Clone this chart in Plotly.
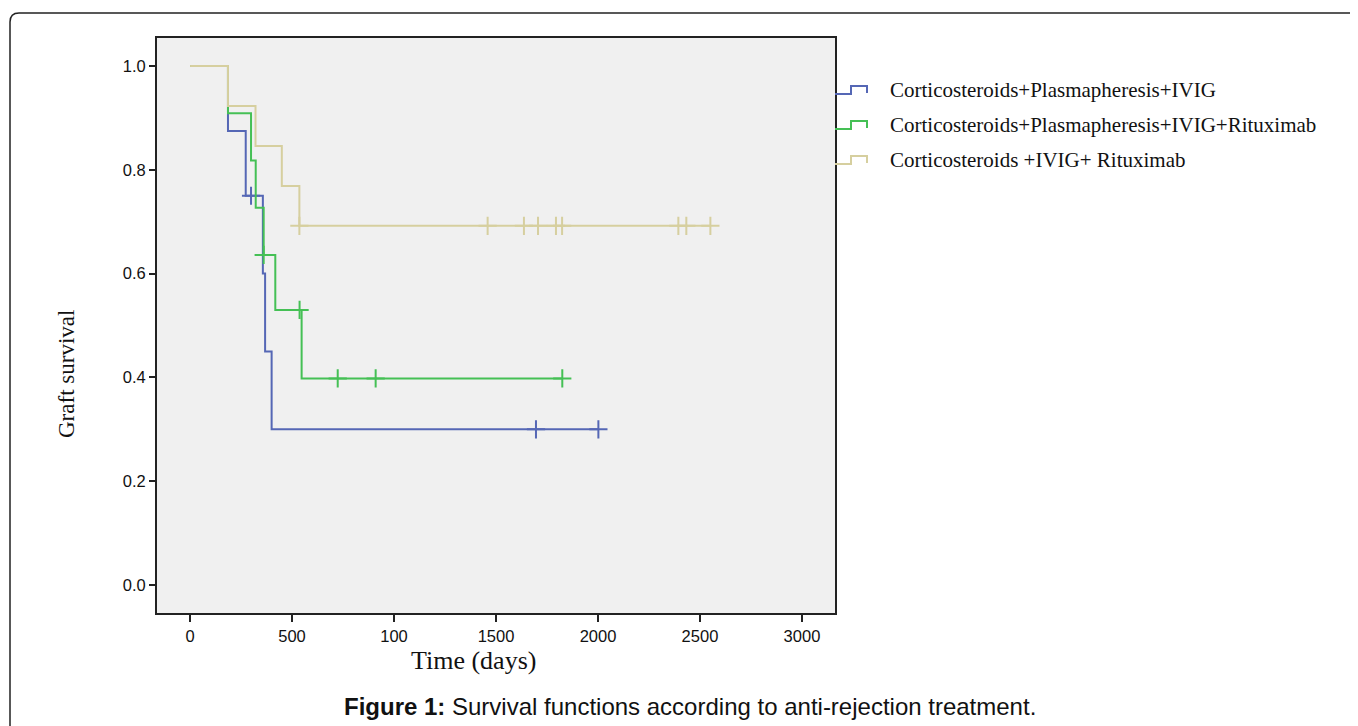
import numpy as np
import plotly.graph_objects as go

# page body has an 8px margin; figure drawn inside it
OFF = 8
W, H = 1358 - OFF, 726 - OFF

# ---- data ----
groups = ["Corticosteroids+Plasmapheresis+IVIG",
          "Corticosteroids+Plasmapheresis+IVIG+Rituximab",
          "Corticosteroids +IVIG+ Rituximab"]

blue_time = [0, 186, 273, 357, 368, 400]
blue_surv = [1.0, 0.875, 0.75, 0.6, 0.45, 0.3]
blue_cens = [299, 1696, 2002]

green_time = [0, 186, 299, 322, 361, 418, 547]
green_surv = [1.0, 0.909, 0.818, 0.727, 0.636, 0.530, 0.398]
green_cens = [361, 537, 724, 910, 1825]

tan_time = [0, 186, 321, 450, 536]
tan_surv = [1.0, 0.923, 0.846, 0.769, 0.692]
tan_cens = [536, 1459, 1637, 1706, 1794, 1824, 2394, 2433, 2551]

x_tickvals = [0, 500, 1000, 1500, 2000, 2500, 3000]
x_ticktext = ["0", "500", "100", "1500", "2000", "2500", "3000"]
y_tickvals = [0.0, 0.2, 0.4, 0.6, 0.8, 1.0]

colors = ["#5567b5", "#45c055", "#d6cf9f"]

# ---- layout geometry (page pixels) ----
PL, PR, PT, PB = 157, 835, 38, 613


def px(x):
    return (x - OFF) / W


def py(y):
    return 1 - (y - OFF) / H


fig = go.Figure()

series = [(blue_time, blue_surv, blue_cens),
          (green_time, green_surv, green_cens),
          (tan_time, tan_surv, tan_cens)]

for (t, s, c), col, name in zip(series, colors, groups):
    t_end = max(max(c), max(t))
    xs = list(t) + [t_end]
    ys = list(s) + [s[-1]]
    fig.add_trace(go.Scatter(x=xs, y=ys, mode="lines", line=dict(color=col, width=2, shape="hv"),
                             name=name, showlegend=False, hoverinfo="skip"))
    idx = np.searchsorted(np.array(t), np.array(c), side="right") - 1
    cy = [s[i] for i in idx]
    fig.add_trace(go.Scatter(x=c, y=cy, mode="markers",
                             marker=dict(symbol="cross-thin", size=13, line=dict(color=col, width=2)),
                             showlegend=False, hoverinfo="skip"))

tickfont = dict(family="Liberation Sans, Arial", size=16.5, color="#111")
fig.update_layout(
    width=W, height=H,
    margin=dict(l=0, r=0, t=0, b=0),
    paper_bgcolor="white",
    plot_bgcolor="#f0f0f0",
    showlegend=False,
    xaxis=dict(domain=[px(PL), px(PR)], range=[-162, 3162], tickvals=x_tickvals, ticktext=x_ticktext,
               showgrid=False, zeroline=False, showline=True, linecolor="#222", linewidth=2, mirror=True,
               ticks="outside", ticklen=7, tickcolor="#222", tickwidth=1.5, tickfont=tickfont),
    yaxis=dict(domain=[py(PB), py(PT)], range=[-0.054, 1.054], tickvals=y_tickvals, tickformat=".1f",
               showgrid=False, zeroline=False, showline=True, linecolor="#222", linewidth=2, mirror=True,
               ticks="outside", ticklen=6, tickcolor="#222", tickwidth=1.5, tickfont=tickfont),
)

annotations = [
    dict(text="Graft survival", x=px(66), y=py(374), xref="paper", yref="paper", textangle=-90,
         showarrow=False, font=dict(family="Liberation Serif, Times New Roman", size=23, color="#111"),
         xanchor="center", yanchor="middle"),
    dict(text="Time (days)", x=px(473), y=py(660), xref="paper", yref="paper",
         showarrow=False, font=dict(family="Liberation Serif, Times New Roman", size=26, color="#111"),
         xanchor="center", yanchor="middle"),
    dict(text="<b>Figure 1:</b> Survival functions according to anti-rejection treatment.",
         x=px(690), y=py(706), xref="paper", yref="paper", showarrow=False,
         font=dict(family="Liberation Sans, Arial", size=24, color="#111"),
         xanchor="center", yanchor="middle"),
]

shapes = []
# legend entries (manual, SPSS-style step icon)
leg_y = [90, 125, 160]
for name, col, ly in zip(groups, colors, leg_y):
    path = (f"M {px(835)} {py(ly+4)} L {px(851)} {py(ly+4)} L {px(851)} {py(ly-4)} "
            f"L {px(867)} {py(ly-4)} L {px(867)} {py(ly+3)}")
    shapes.append(dict(type="path", path=path, xref="paper", yref="paper",
                       line=dict(color=col, width=2)))
    annotations.append(dict(text=name, x=px(888), y=py(ly), xref="paper", yref="paper",
                            showarrow=False, xanchor="left", yanchor="middle",
                            font=dict(family="Liberation Serif, Times New Roman", size=21, color="#111")))

# rounded outer frame
r = 9
frame = (f"M {px(10)} {py(740)} L {px(10)} {py(13 + r)} Q {px(10)} {py(13)} {px(10 + r)} {py(13)} "
         f"L {px(1370)} {py(13)}")
shapes.append(dict(type="path", path=frame, xref="paper", yref="paper", line=dict(color="#222", width=1.5)))

fig.update_layout(annotations=annotations, shapes=shapes)

fig.write_html("out.html")
